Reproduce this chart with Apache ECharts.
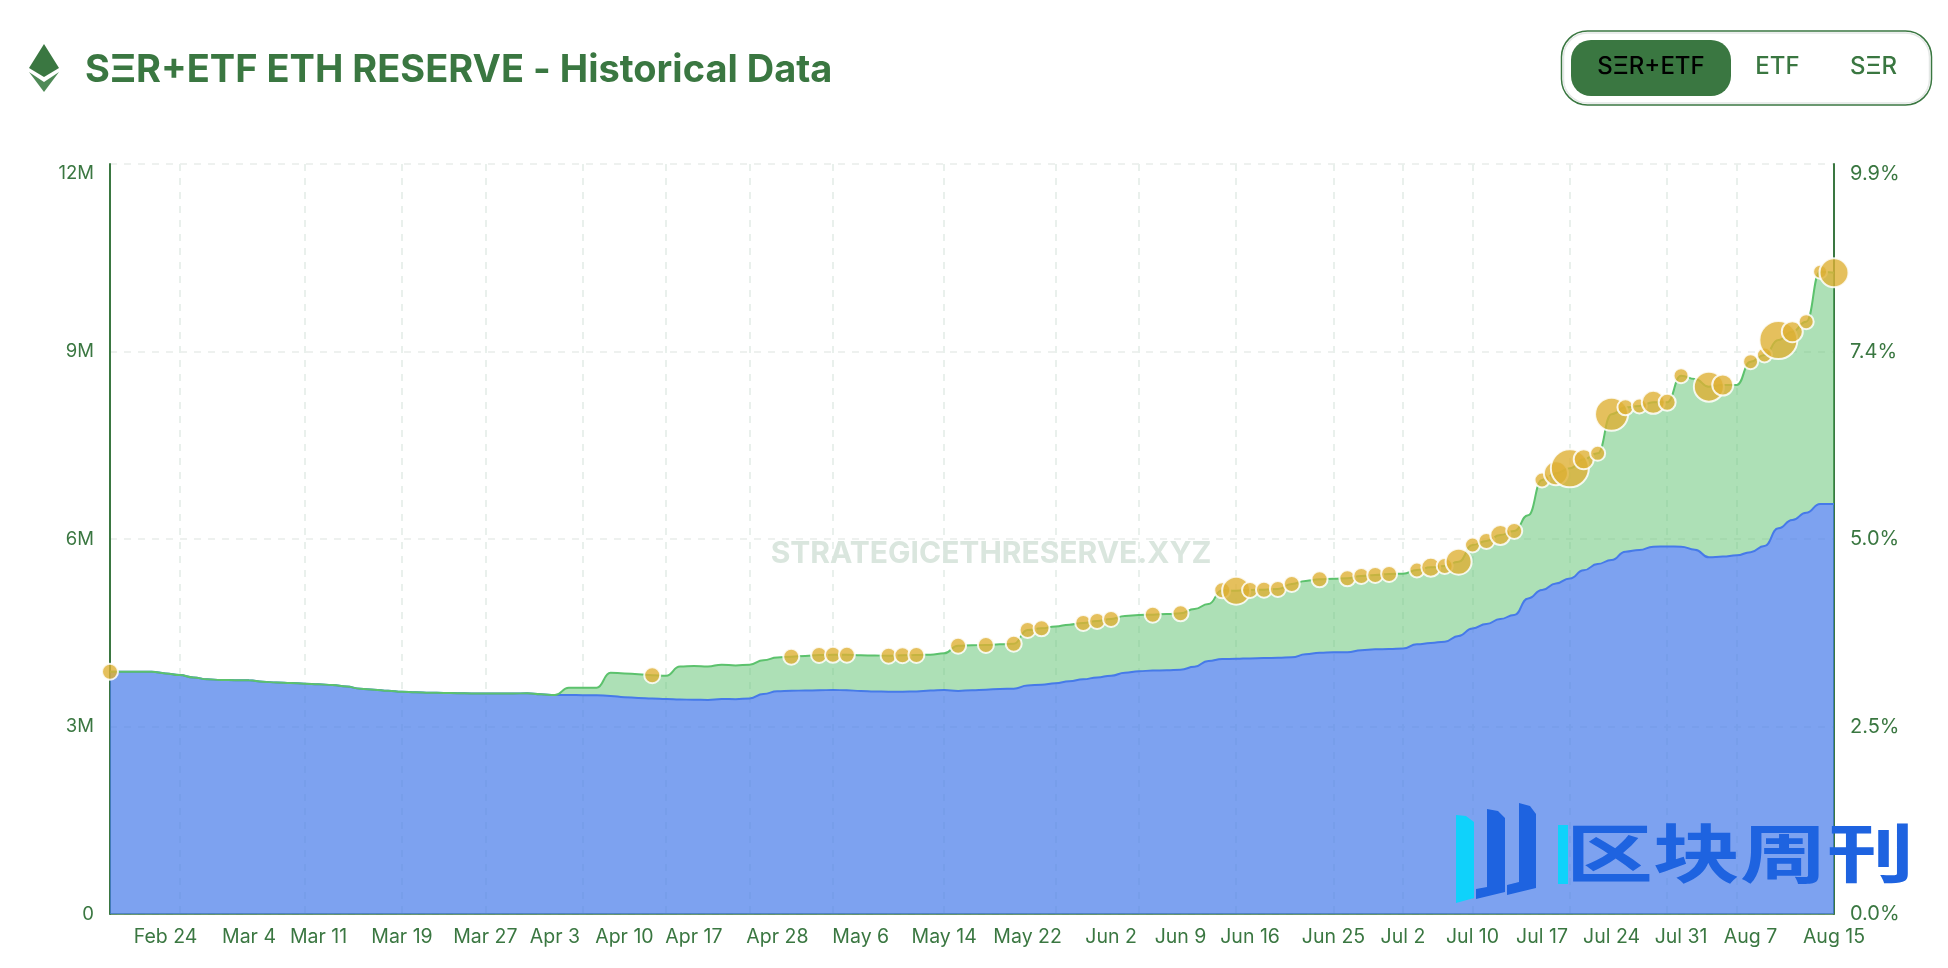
<!DOCTYPE html>
<html>
<head>
<meta charset="utf-8">
<title>SΞR+ETF ETH RESERVE - Historical Data</title>
<script src="https://cdn.jsdelivr.net/npm/echarts@6/dist/echarts.min.js"></script>
<style>
	html, body { margin: 0; padding: 0; background: #fff; }
	#chartReserve { width: 1948px; height: 968px; }
</style>
</head>
<body>
<div id="chartReserve"></div>
<script type="text/javascript">
	var tradingDays = [
		'Feb 18','Feb 19','Feb 20','Feb 21','Feb 24','Feb 25','Feb 26','Feb 27','Feb 28',
		'Mar 3','Mar 4','Mar 5','Mar 6','Mar 7','Mar 10','Mar 11','Mar 12','Mar 13','Mar 14',
		'Mar 17','Mar 18','Mar 19','Mar 20','Mar 21','Mar 24','Mar 25','Mar 26','Mar 27','Mar 28','Mar 31',
		'Apr 1','Apr 2','Apr 3','Apr 4','Apr 7','Apr 8','Apr 9','Apr 10','Apr 11','Apr 14','Apr 15','Apr 16','Apr 17',
		'Apr 21','Apr 22','Apr 23','Apr 24','Apr 25','Apr 28','Apr 29','Apr 30',
		'May 1','May 2','May 5','May 6','May 7','May 8','May 9','May 12','May 13','May 14','May 15','May 16',
		'May 19','May 20','May 21','May 22','May 23','May 27','May 28','May 29','May 30',
		'Jun 2','Jun 3','Jun 4','Jun 5','Jun 6','Jun 9','Jun 10','Jun 11','Jun 12','Jun 13','Jun 16','Jun 17','Jun 18','Jun 20',
		'Jun 23','Jun 24','Jun 25','Jun 26','Jun 27','Jun 30',
		'Jul 1','Jul 2','Jul 3','Jul 7','Jul 8','Jul 9','Jul 10','Jul 11','Jul 14','Jul 15','Jul 16','Jul 17','Jul 18',
		'Jul 21','Jul 22','Jul 23','Jul 24','Jul 25','Jul 28','Jul 29','Jul 30','Jul 31',
		'Aug 1','Aug 4','Aug 5','Aug 6','Aug 7','Aug 8','Aug 11','Aug 12','Aug 13','Aug 14','Aug 15'
	];
	// dates that carry a label / a vertical grid line
	var tickDays = ['Feb 24','Mar 4','Mar 11','Mar 19','Mar 27','Apr 3','Apr 10','Apr 17','Apr 28','May 6','May 14','May 22','Jun 2','Jun 9','Jun 16','Jun 25','Jul 2','Jul 10','Jul 17','Jul 24','Jul 31','Aug 7','Aug 15'];
	var gridDays = ['Feb 25','Mar 10','Mar 19','Mar 27','Apr 7','Apr 15','Apr 24','May 2','May 14','May 27','Jun 4','Jun 13','Jun 25','Jul 2','Jul 10','Jul 21','Jul 30','Aug 6'];

	// ETH, in millions
	var totalReserve = [
		3.877,3.877,3.877,3.875,3.85,3.824,3.785,3.755,3.745,3.74,
		3.739,3.715,3.705,3.697,3.685,3.675,3.665,3.64,3.605,3.59,
		3.573,3.555,3.548,3.542,3.538,3.534,3.53,3.527,3.527,3.529,
		3.531,3.515,3.504,3.62,3.62,3.62,3.86,3.85,3.835,3.82,
		3.813,3.96,3.968,3.96,3.99,3.975,3.99,4.06,4.105,4.117,
		4.13,4.144,4.147,4.149,4.14,4.135,4.133,4.14,4.144,4.15,
		4.171,4.293,4.30,4.304,4.315,4.325,4.544,4.571,4.60,4.63,
		4.656,4.688,4.72,4.77,4.785,4.789,4.80,4.811,4.88,4.96,
		5.179,5.173,5.184,5.189,5.2,5.28,5.33,5.355,5.365,5.371,
		5.408,5.424,5.44,5.445,5.504,5.547,5.568,5.637,5.904,5.968,
		6.064,6.128,6.38,6.944,7.051,7.131,7.275,7.371,7.995,8.107,
		8.128,8.187,8.187,8.613,8.56,8.437,8.464,8.464,8.837,8.944,
		9.184,9.317,9.477,10.277,10.261
	];
	var etfReserve = [
		3.877,3.877,3.877,3.875,3.85,3.824,3.785,3.755,3.745,3.74,
		3.739,3.715,3.705,3.697,3.685,3.675,3.665,3.64,3.605,3.59,
		3.573,3.555,3.548,3.542,3.538,3.534,3.53,3.527,3.527,3.529,
		3.531,3.515,3.504,3.503,3.502,3.50,3.49,3.47,3.456,3.447,
		3.44,3.432,3.428,3.425,3.44,3.437,3.45,3.52,3.565,3.573,
		3.575,3.58,3.584,3.58,3.568,3.56,3.557,3.558,3.562,3.575,
		3.584,3.57,3.58,3.59,3.60,3.605,3.655,3.67,3.691,3.725,
		3.755,3.785,3.813,3.86,3.885,3.895,3.90,3.91,3.955,4.05,
		4.08,4.083,4.09,4.095,4.10,4.107,4.155,4.18,4.19,4.19,
		4.22,4.235,4.24,4.25,4.315,4.336,4.358,4.448,4.57,4.64,
		4.72,4.784,5.05,5.184,5.29,5.37,5.5,5.6,5.664,5.797,
		5.824,5.877,5.88,5.877,5.83,5.707,5.72,5.739,5.79,5.888,
		6.171,6.304,6.42,6.56,6.56
	];

	var purchaseDays = [
		'Feb 18','Apr 14','Apr 29','May 1','May 2','May 5','May 8','May 9','May 12','May 15','May 19','May 21','May 22','May 23',
		'May 29','May 30','Jun 2','Jun 5','Jun 9','Jun 12','Jun 13','Jun 16','Jun 17','Jun 18','Jun 20','Jun 24','Jun 26','Jun 27',
		'Jun 30','Jul 1','Jul 3','Jul 7','Jul 8','Jul 9','Jul 10','Jul 11','Jul 14','Jul 15','Jul 17','Jul 18','Jul 21','Jul 22',
		'Jul 23','Jul 24','Jul 25','Jul 28','Jul 29','Jul 30','Jul 31','Aug 4','Aug 5','Aug 7','Aug 8','Aug 11','Aug 12','Aug 13','Aug 14','Aug 15'
	];
	var purchaseSizes = [
		16,16,16,16,16,16,16,16,16,16,16,16,16,16,
		16,16,16,16,16,16,28,16,16,16,16,16,16,16,
		16,16,15,19,16,26,15,16,20,16,15,24,38,20,
		15,33,16,15,23,17,15,30,21,15,15,38,21,15,14,29
	];
	var reserveTicks = ['0','3M','6M','9M','12M'];
	var shareTicks = ['0.0%','2.5%','5.0%','7.4%','9.9%'];

	var green = '#3a7741';
	var chartReserve = echarts.init(document.getElementById('chartReserve'));
	var font = 'Inter, "Noto Sans", sans-serif';

	option_reserve = {
		animation: false,
		title: {
			text: 'SΞR+ETF ETH RESERVE - Historical Data',
			left: 80,
			top: 44,
			textStyle: { color: green, fontFamily: font, fontSize: 38, fontWeight: 700, lineHeight: 44 }
		},
		grid: { left: 110, right: 114, top: 164, bottom: 54 },
		xAxis: {
			type: 'category',
			boundaryGap: false,
			data: tradingDays,
			axisLine: { show: true, lineStyle: { color: green, width: 1.5 } },
			axisTick: { show: false },
			axisLabel: {
				color: green,
				fontFamily: font,
				fontSize: 19.5,
				margin: 13,
				interval: function (index, value) { return tickDays.indexOf(value) >= 0; }
			},
			splitLine: {
				show: true,
				interval: function (index, value) { return gridDays.indexOf(value) >= 0; },
				lineStyle: { color: '#e9f0ec', type: [7, 7], width: 2 }
			}
		},
		yAxis: [
			{
				type: 'value',
				min: 0,
				max: 12,
				interval: 3,
				axisLine: { show: true, lineStyle: { color: green, width: 2 } },
				axisTick: { show: false },
				axisLabel: {
					color: green,
					fontFamily: font,
					fontSize: 18.5,
					margin: 16,
					verticalAlignMaxLabel: 'top',
					formatter: function (value) { return reserveTicks[value / 3]; }
				},
				splitLine: { show: true, lineStyle: { color: '#eef1ef', type: [7, 7], width: 2 } }
			},
			{
				type: 'value',
				min: 0,
				max: 12,
				interval: 3,
				position: 'right',
				axisLine: { show: true, lineStyle: { color: green, width: 2 } },
				axisTick: { show: false },
				axisLabel: {
					color: green,
					fontFamily: font,
					fontSize: 20,
					margin: 16,
					verticalAlignMaxLabel: 'top',
					formatter: function (value) { return shareTicks[value / 3]; }
				},
				splitLine: { show: false }
			}
		],
		series: [
			{
				name: 'ETF',
				type: 'line',
				stack: 'reserve',
				smooth: 0.5,
				smoothMonotone: 'x',
				showSymbol: false,
				data: etfReserve,
				lineStyle: { color: '#467ae9', width: 2 },
				areaStyle: { color: '#467ae9', opacity: 0.7 }
			},
			{
				name: 'SER',
				type: 'line',
				stack: 'reserve',
				smooth: 0.5,
				smoothMonotone: 'x',
				showSymbol: false,
				data: totalReserve.map(function (v, i) { return v - etfReserve[i]; }),
				lineStyle: { color: '#5cc26d', width: 2 },
				areaStyle: { color: '#5cc26d', opacity: 0.5 }
			},
			{
				name: 'Purchases',
				type: 'scatter',
				clip: false,
				z: 5,
				data: purchaseDays.map(function (day, i) {
					return [day, totalReserve[tradingDays.indexOf(day)], purchaseSizes[i]];
				}),
				symbolSize: function (d) { return d[2]; },
				itemStyle: { color: 'rgba(223,176,52,0.8)', borderColor: 'rgba(255,255,255,0.85)', borderWidth: 2, opacity: 1 }
			}
		],
		graphic: [
			// eth logo
			{ type: 'polygon', shape: { points: [[44, 44], [59, 68], [44, 77], [29, 68]] }, style: { fill: green } },
			{ type: 'polygon', shape: { points: [[29, 72], [44, 82], [59, 72], [44, 92]] }, style: { fill: '#4f8a57' } },
			// dataset switch
			{ type: 'rect', shape: { x: 1561.5, y: 31, width: 370, height: 74, r: 26 }, style: { fill: '#fff', stroke: green, lineWidth: 1.5 } },
			{ type: 'rect', shape: { x: 1563.5, y: 33, width: 366, height: 70, r: 24 }, style: { fill: 'none', stroke: '#e4e8e6', lineWidth: 1.5 } },
			{ type: 'rect', shape: { x: 1571, y: 40, width: 160, height: 56, r: 20 }, style: { fill: green } },
			{ type: 'text', style: { x: 1651, y: 67, text: 'SΞR+ETF', fill: '#000', font: '500 24px ' + font, align: 'center', verticalAlign: 'middle' } },
			{ type: 'text', style: { x: 1777.5, y: 67, text: 'ETF', fill: green, font: '500 24px ' + font, align: 'center', verticalAlign: 'middle' } },
			{ type: 'text', style: { x: 1873.5, y: 67, text: 'SΞR', fill: green, font: '500 24px ' + font, align: 'center', verticalAlign: 'middle' } },
			// site watermark
			{ type: 'text', z: 1, style: { x: 991, y: 554, text: 'STRATEGICETHRESERVE.XYZ', fill: '#dae6de', font: '700 30px ' + font, align: 'center', verticalAlign: 'middle' } },
			// 区块周刊 stamp
			{ type: 'polygon', z: 10, shape: { points: [[1456, 815], [1466, 816], [1474, 822], [1474, 898], [1456, 903]] }, style: { fill: '#0fd2fb' } },
			{ type: 'polygon', z: 10, shape: { points: [[1487, 809], [1498, 811], [1505, 818], [1505, 892], [1476, 899], [1476, 889], [1487, 887]] }, style: { fill: '#1e63e0' } },
			{ type: 'polygon', z: 10, shape: { points: [[1519, 803], [1530, 806], [1536, 814], [1536, 888], [1507, 895], [1507, 885], [1519, 882]] }, style: { fill: '#1e63e0' } },
			{ type: 'rect', z: 10, shape: { x: 1558, y: 825, width: 10, height: 59 }, style: { fill: '#0fd2fb' } },
			{ type: 'text', z: 10, x: 1566, y: 853, scaleX: 1.36, style: { x: 0, y: 0, text: '区块周刊', fill: '#1e63e0', font: '700 64px "Noto Sans CJK SC"', align: 'left', verticalAlign: 'middle' } }
		]
	};
	chartReserve.setOption(option_reserve);
	window.onresize = function() {
		chartReserve.resize();
	};
</script>
</body>
</html>
